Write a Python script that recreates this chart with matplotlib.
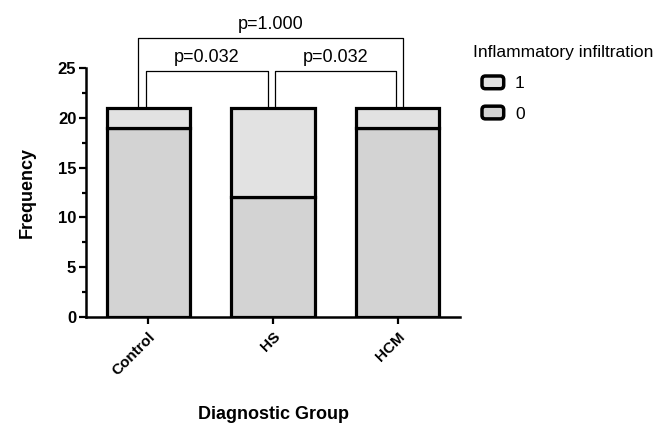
import matplotlib
matplotlib.use("Agg")
import matplotlib.pyplot as plt
import matplotlib.transforms as mtransforms
from matplotlib.patches import FancyBboxPatch, Patch
from matplotlib.legend_handler import HandlerBase

plt.rcParams['font.family'] = ['Liberation Sans', 'DejaVu Sans']

groups = ["Control", "HS", "HCM"]
count_0 = [19, 12, 19]
count_1 = [2, 9, 2]
legend_title = "Inflammatory infiltration"
legend_labels = ["1", "0"]
# brackets: (x_left, x_right, height, bottom, label)
brackets = [
    (-0.02, 0.96, 24.7, 21, "p=0.032"),
    (1.02, 1.99, 24.7, 21, "p=0.032"),
    (-0.08, 2.04, 28.0, 21, "p=1.000"),
]

fig = plt.figure(figsize=(6.66, 4.34), dpi=100)
ax = fig.add_axes([86/666, 1-317/434, (460-86)/666, (317-68)/434])

x = list(range(len(groups)))
c0 = "#d3d3d3"
c1 = "#e2e2e2"
ax.bar(x, count_0, width=0.67, color=c0, edgecolor="black", linewidth=2.3, zorder=3)
ax.bar(x, count_1, bottom=count_0, width=0.67, color=c1, edgecolor="black", linewidth=2.3, zorder=3)

ax.set_xlim(-0.5, 2.5)
ax.set_ylim(0, 25)
ax.set_yticks([0, 5, 10, 15, 20, 25])
ax.set_yticks([2.5, 7.5, 12.5, 17.5, 22.5], minor=True)
ax.set_xticks(x)
ax.set_xticklabels(groups, rotation=45, ha="right", rotation_mode="anchor", fontweight="bold", fontsize=11)
offset = mtransforms.ScaledTranslation(-5/100, 2/100, fig.dpi_scale_trans)
for lab in ax.get_xticklabels():
    lab.set_transform(lab.get_transform() + offset)
for lab in ax.get_yticklabels():
    lab.set_fontweight("bold")
    lab.set_fontsize(12)
ax.tick_params(axis="both", which="major", direction="out", length=5, width=1.6, pad=2)
ax.tick_params(axis="y", which="minor", direction="out", length=3, width=1.6)
ax.tick_params(axis="x", pad=4)
for s in ["top", "right"]:
    ax.spines[s].set_visible(False)
for s in ["left", "bottom"]:
    ax.spines[s].set_linewidth(1.8)

ax.set_ylabel("Frequency", fontweight="bold", fontsize=13, labelpad=16)
ax.set_xlabel("Diagnostic Group", fontweight="bold", fontsize=13, labelpad=20)

for xl, xr, h, b, lab in brackets:
    ax.plot([xl, xl, xr, xr], [b, h, h, b], color="black", lw=0.9, clip_on=False, zorder=2)
    ax.text((xl+xr)/2, h+0.5, lab, ha="center", va="bottom", fontsize=13)


class RoundHandler(HandlerBase):
    def create_artists(self, legend, orig_handle, xdescent, ydescent,
                       width, height, fontsize, trans):
        p = FancyBboxPatch((-xdescent, -ydescent), width, height,
                           boxstyle="round,pad=0,rounding_size=2.5",
                           facecolor=orig_handle.get_facecolor(),
                           edgecolor="black", linewidth=2.5, transform=trans)
        return [p]


fig.text(473/666, 1-52/434, legend_title, ha="left", va="center", fontsize=12.5)
handles = [Patch(facecolor=c1, edgecolor="black", label=legend_labels[0]),
           Patch(facecolor=c0, edgecolor="black", label=legend_labels[1])]
leg = fig.legend(handles=handles, loc="upper left",
                 bbox_to_anchor=(482/666, 1-76/434), frameon=False, fontsize=12.5,
                 handlelength=1.25, handleheight=0.75, handletextpad=0.65,
                 labelspacing=0.85, borderpad=0, borderaxespad=0,
                 handler_map={Patch: RoundHandler()})

fig.savefig("out.png", dpi=100)
